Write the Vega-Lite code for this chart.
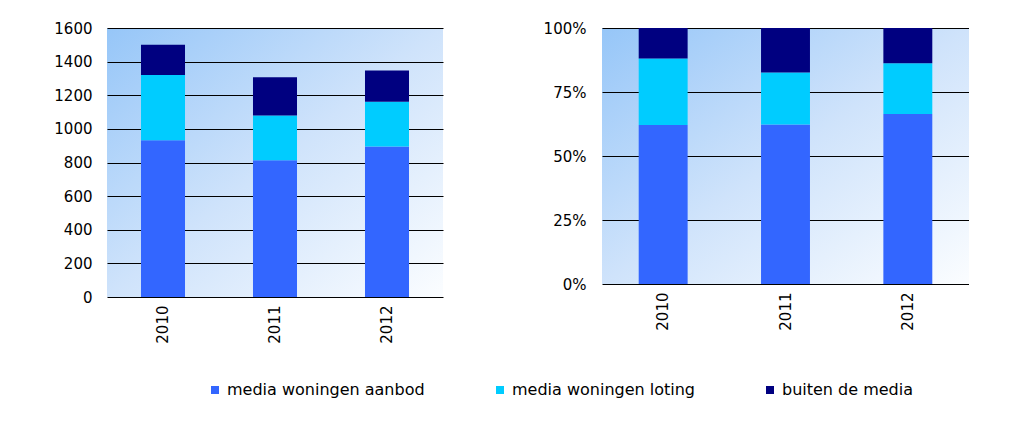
{
  "$schema": "https://vega.github.io/schema/vega-lite/v6.json",
  "padding": {"left": 53, "top": 21, "right": 0, "bottom": 0},
  "background": "white",
  "datasets": {
    "d": [
      {"jaar": "2010", "categorie": "media woningen aanbod", "aantal": 932, "volgorde": 1},
      {"jaar": "2010", "categorie": "media woningen loting", "aantal": 389, "volgorde": 2},
      {"jaar": "2010", "categorie": "buiten de media", "aantal": 179, "volgorde": 3},
      {"jaar": "2011", "categorie": "media woningen aanbod", "aantal": 814, "volgorde": 1},
      {"jaar": "2011", "categorie": "media woningen loting", "aantal": 266, "volgorde": 2},
      {"jaar": "2011", "categorie": "buiten de media", "aantal": 227, "volgorde": 3},
      {"jaar": "2012", "categorie": "media woningen aanbod", "aantal": 895, "volgorde": 1},
      {"jaar": "2012", "categorie": "media woningen loting", "aantal": 266, "volgorde": 2},
      {"jaar": "2012", "categorie": "buiten de media", "aantal": 186, "volgorde": 3}
    ]
  },
  "data": {"name": "d"},
  "spacing": 100,
  "hconcat": [
    {
      "width": 336,
      "height": 269,
      "mark": {"type": "bar"},
      "encoding": {
        "x": {
          "field": "jaar", "type": "nominal",
          "scale": {"paddingInner": 0.607, "paddingOuter": 0.3035},
          "axis": {"title": null, "labelAngle": -90, "ticks": false, "domain": false, "labelPadding": 8}
        },
        "y": {
          "field": "aantal", "type": "quantitative", "stack": "zero",
          "scale": {"domain": [0, 1600]},
          "axis": {"title": null, "values": [0, 200, 400, 600, 800, 1000, 1200, 1400, 1600], "format": "d", "labelPadding": 15}
        },
        "color": {
          "field": "categorie", "type": "nominal",
          "scale": {"domain": ["media woningen aanbod", "media woningen loting", "buiten de media"], "range": ["#3366ff", "#00ccff", "#000080"]},
          "legend": {"title": null}
        },
        "order": {"field": "volgorde", "type": "quantitative"}
      }
    },
    {
      "width": 367,
      "height": 256,
      "mark": {"type": "bar"},
      "encoding": {
        "x": {
          "field": "jaar", "type": "nominal",
          "scale": {"paddingInner": 0.6, "paddingOuter": 0.3},
          "axis": {"title": null, "labelAngle": -90, "ticks": false, "domain": false, "labelPadding": 8}
        },
        "y": {
          "field": "aantal", "type": "quantitative", "stack": "normalize",
          "axis": {"title": null, "values": [0, 0.25, 0.5, 0.75, 1], "format": ".0%", "labelPadding": 16}
        },
        "color": {
          "field": "categorie", "type": "nominal",
          "scale": {"domain": ["media woningen aanbod", "media woningen loting", "buiten de media"], "range": ["#3366ff", "#00ccff", "#000080"]},
          "legend": {"title": null}
        },
        "order": {"field": "volgorde", "type": "quantitative"}
      }
    }
  ],
  "config": {
    "font": "DejaVu Sans",
    "view": {
      "stroke": null,
      "fill": {
        "gradient": "linear", "x1": 0, "y1": 0, "x2": 1, "y2": 1,
        "stops": [
          {"offset": 0, "color": "#96c6f8"},
          {"offset": 0.5, "color": "#cfe3fb"},
          {"offset": 1, "color": "#fbfdff"}
        ]
      }
    },
    "axis": {
      "labelFont": "DejaVu Sans",
      "labelFontSize": 15,
      "labelColor": "#000000",
      "gridColor": "#000000",
      "gridOpacity": 1,
      "gridWidth": 1,
      "domainColor": "#000000",
      "ticks": false
    },
    "axisY": {"domain": false, "grid": true},
    "axisX": {"grid": false},
    "legend": {
      "orient": "none",
      "legendX": 100,
      "legendY": 354,
      "direction": "horizontal",
      "symbolType": "square",
      "symbolSize": 64,
      "symbolStrokeWidth": 0,
      "labelFontSize": 16,
      "labelColor": "#000000",
      "labelFont": "DejaVu Sans",
      "columnPadding": 67,
      "labelOffset": 4,
      "labelLimit": 400
    }
  }
}
